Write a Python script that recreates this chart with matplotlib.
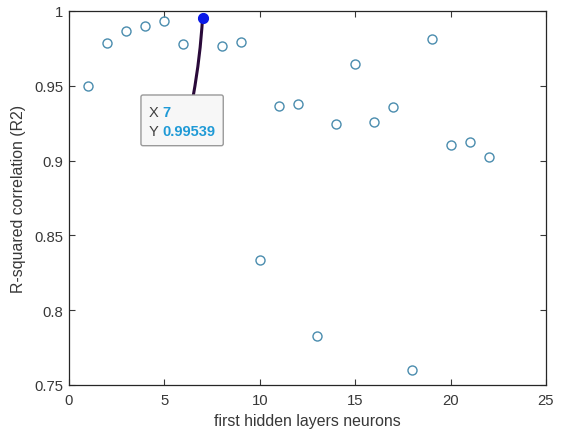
import matplotlib
matplotlib.use('Agg')
import matplotlib.pyplot as plt
import matplotlib.transforms as mtrans
from matplotlib.patches import FancyBboxPatch

neurons = list(range(1, 23))
r2 = [0.950, 0.9788, 0.9866, 0.9898, 0.9933, 0.9777, 0.99539, 0.9764, 0.9791, 0.8338,
      0.9367, 0.9380, 0.7825, 0.9247, 0.9644, 0.9258, 0.9360, 0.7600, 0.9815, 0.9106,
      0.9122, 0.9022]
sel_x = 7
sel_y = 0.99539
xticks = [0, 5, 10, 15, 20, 25]
yticks = [0.75, 0.8, 0.85, 0.9, 0.95, 1.0]
ytick_labels = ['0.75', '0.8', '0.85', '0.9', '0.95', '1']

plt.rcParams['font.family'] = ['Liberation Sans', 'DejaVu Sans']
W, H = 561, 435
fig = plt.figure(figsize=(W / 100, H / 100), dpi=100)
ax = fig.add_axes([69 / W, (H - 386) / H, 477 / W, 374 / H])
ax.set_xlim(0, 25)
ax.set_ylim(0.75, 1.0)

tc = '#383838'
ax.plot(neurons, r2, 'o', mfc='none', mec='#4a8cae', ms=6.5, mew=1.0, zorder=3)
ax.plot(sel_x, sel_y, 'o', color='#0b1ae8', ms=7, zorder=5)

ax.set_xticks(xticks)
ax.set_xticklabels([str(t) for t in xticks])
ax.set_yticks(yticks)
ax.set_yticklabels(ytick_labels)
ax.tick_params(direction='in', top=True, right=True, length=4, width=0.8,
               colors=tc, labelsize=10.7, labelcolor=tc)
ax.tick_params(axis='x', pad=6)
ax.tick_params(axis='y', pad=4)
for s in ax.spines.values():
    s.set_color('#262626')
    s.set_linewidth(0.9)
ax.set_xlabel('first hidden layers neurons', fontsize=11.4, color=tc, labelpad=4)
ax.set_ylabel('R-squared correlation (R2)', fontsize=11.4, color=tc, labelpad=6)

# datatip (offsets in pixels relative to the selected point)
px, py = ax.transData.transform((sel_x, sel_y))
tr = mtrans.Affine2D().translate(px, py)
ax.annotate('', xy=(sel_x, sel_y), xytext=(-9.3, -77.8), textcoords='offset pixels',
            arrowprops=dict(arrowstyle='-', color='#2a0a3a', lw=2.2,
                            shrinkA=0, shrinkB=0, connectionstyle='arc3,rad=0.03'),
            zorder=4)
box = FancyBboxPatch((-61.6, -127.8), 82.3, 50.7, boxstyle='round,pad=0,rounding_size=2',
                     transform=tr, facecolor='#f7f7f7', edgecolor='#9a9a9a', lw=1.0,
                     zorder=6, clip_on=False)
fig.patches.append(box)
box.set_figure(fig)
tip_fs = 10.5
fig.text(0, 0, 'X', transform=mtrans.Affine2D().translate(px - 54.3, py - 94.4), fontsize=tip_fs,
         color='#404040', va='center', ha='left', zorder=7)
fig.text(0, 0, 'Y', transform=mtrans.Affine2D().translate(px - 54.3, py - 112.8), fontsize=tip_fs,
         color='#404040', va='center', ha='left', zorder=7)
fig.text(0, 0, '7', transform=mtrans.Affine2D().translate(px - 40.3, py - 94.4), fontsize=tip_fs,
         color='#1f9ad6', fontweight='bold', va='center', ha='left', zorder=7)
fig.text(0, 0, f'{sel_y:.5f}', transform=mtrans.Affine2D().translate(px - 40.3, py - 112.8),
         fontsize=tip_fs, color='#1f9ad6', fontweight='bold', va='center', ha='left', zorder=7)

fig.savefig('out.png', dpi=100)
